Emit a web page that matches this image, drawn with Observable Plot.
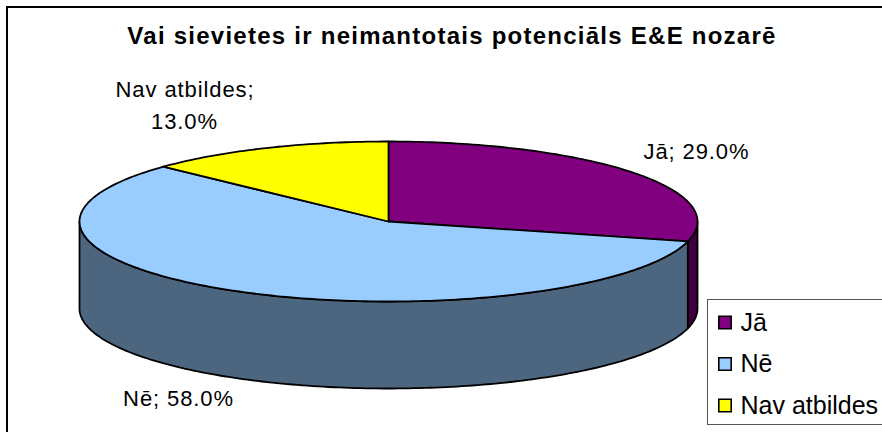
<!DOCTYPE html>
<html><head><meta charset="utf-8">
<script src="https://cdn.jsdelivr.net/npm/d3@7"></script>
<script src="https://cdn.jsdelivr.net/npm/@observablehq/plot@0.6"></script>
<style>
html,body{margin:0;padding:0;background:#fff}
#c{position:relative;width:882px;height:432px;overflow:hidden;font-family:"Liberation Sans",Arial,sans-serif;color:#000}
#c svg{position:absolute;left:0;top:0}
</style></head><body><div id="c"></div>
<script>
const categories = ["Jā","Nē","Nav atbildes"];
const shares = [29.0,58.0,13.0];
const topColors = ["#800080","#99CCFF","#FFFF00"];
const sideColors = ["#400040","#4D6680","#808000"];
const titleText = "Vai sievietes ir neimantotais potenciāls E&E nozarē";
const W=882,H=432,cx=388,cy=221,rx=309,ry=80,depth=87;

const toXY=(deg,dy=0)=>({x:cx+rx*Math.sin(deg*Math.PI/180),y:cy+dy-ry*Math.cos(deg*Math.PI/180)});
let acc=0; const slices=categories.map((name,i)=>{const a0=acc*3.6;acc+=shares[i];return {name,i,a0,a1:acc*3.6};});
const range=(a,b)=>{const n=Math.max(2,Math.ceil(Math.abs(b-a)));return d3.range(n+1).map(k=>a+(b-a)*k/n);};

const topPts=[],sidePts=[];
for(const s of slices){
  const c={x:cx,y:cy};
  [c,...range(s.a0,s.a1).map(a=>toXY(a)),c].forEach(p=>topPts.push({...p,s:s.name,i:s.i}));
  const a=Math.max(s.a0,90),b=Math.min(s.a1,270);
  if(b>a){
    const fwd=range(a,b);
    [...fwd.map(t=>toXY(t)),...fwd.slice().reverse().map(t=>toXY(t,depth)),toXY(a)].forEach(p=>sidePts.push({...p,s:s.name,i:s.i}));
  }
}
const labels=[
 {t:"Jā; 29.0%",x:696,y:151},
 {t:"Nē; 58.0%",x:178,y:398},
 {t:"Nav atbildes;",x:184.5,y:89},
 {t:"13.0%",x:184,y:121}
];
const legendRows=categories.map((name,i)=>({name,i,y:322+i*41.5}));
const fr=[{x1:7,y1:7,x2:W+4,y2:H+4}];
const lg=[{x1:707.5,y1:299.5,x2:W+4,y2:424.5}];
const chart=Plot.plot({
 width:W,height:H,margin:0,
 x:{domain:[0,W],range:[0,W],axis:null},
 y:{domain:[0,H],range:[0,H],axis:null},
 marks:[
  Plot.rect(fr,{x1:"x1",x2:"x2",y1:"y1",y2:"y2",fill:"#fff",stroke:"#000",strokeWidth:2}),
  Plot.line(sidePts,{x:"x",y:"y",z:"s",fill:d=>sideColors[d.i],stroke:"#000",strokeWidth:1.8,strokeLinejoin:"round"}),
  Plot.line(topPts,{x:"x",y:"y",z:"s",fill:d=>topColors[d.i],stroke:"#000",strokeWidth:1.8,strokeLinejoin:"round"}),
  Plot.text([titleText],{x:()=>451.5,y:()=>36,text:d=>d,fontSize:24,fontWeight:"bold",fill:"#000",textAnchor:"middle",fontFamily:"Liberation Sans"}),
  Plot.text(labels,{x:"x",y:"y",text:"t",fontSize:22,fill:"#000",textAnchor:"middle",fontFamily:"Liberation Sans"}),
  Plot.rect(lg,{x1:"x1",x2:"x2",y1:"y1",y2:"y2",fill:"#fff",stroke:"#555",strokeWidth:1}),
  Plot.dot(legendRows,{x:()=>724.5,y:"y",symbol:"square",r:7,fill:d=>topColors[d.i],stroke:"#000",strokeWidth:1.6}),
  Plot.text(legendRows,{x:()=>740,y:"y",text:"name",fontSize:25,fill:"#000",textAnchor:"start",fontFamily:"Liberation Sans"})
 ]
});
const labelTexts=new Set(labels.map(d=>d.t));
d3.select(chart).selectAll("text").each(function(){
  const t=this.textContent;
  if(t===titleText) this.style.letterSpacing="1.25px";
  else if(labelTexts.has(t)) this.style.letterSpacing="0.9px";
});
document.getElementById("c").appendChild(chart);
</script></body></html>
